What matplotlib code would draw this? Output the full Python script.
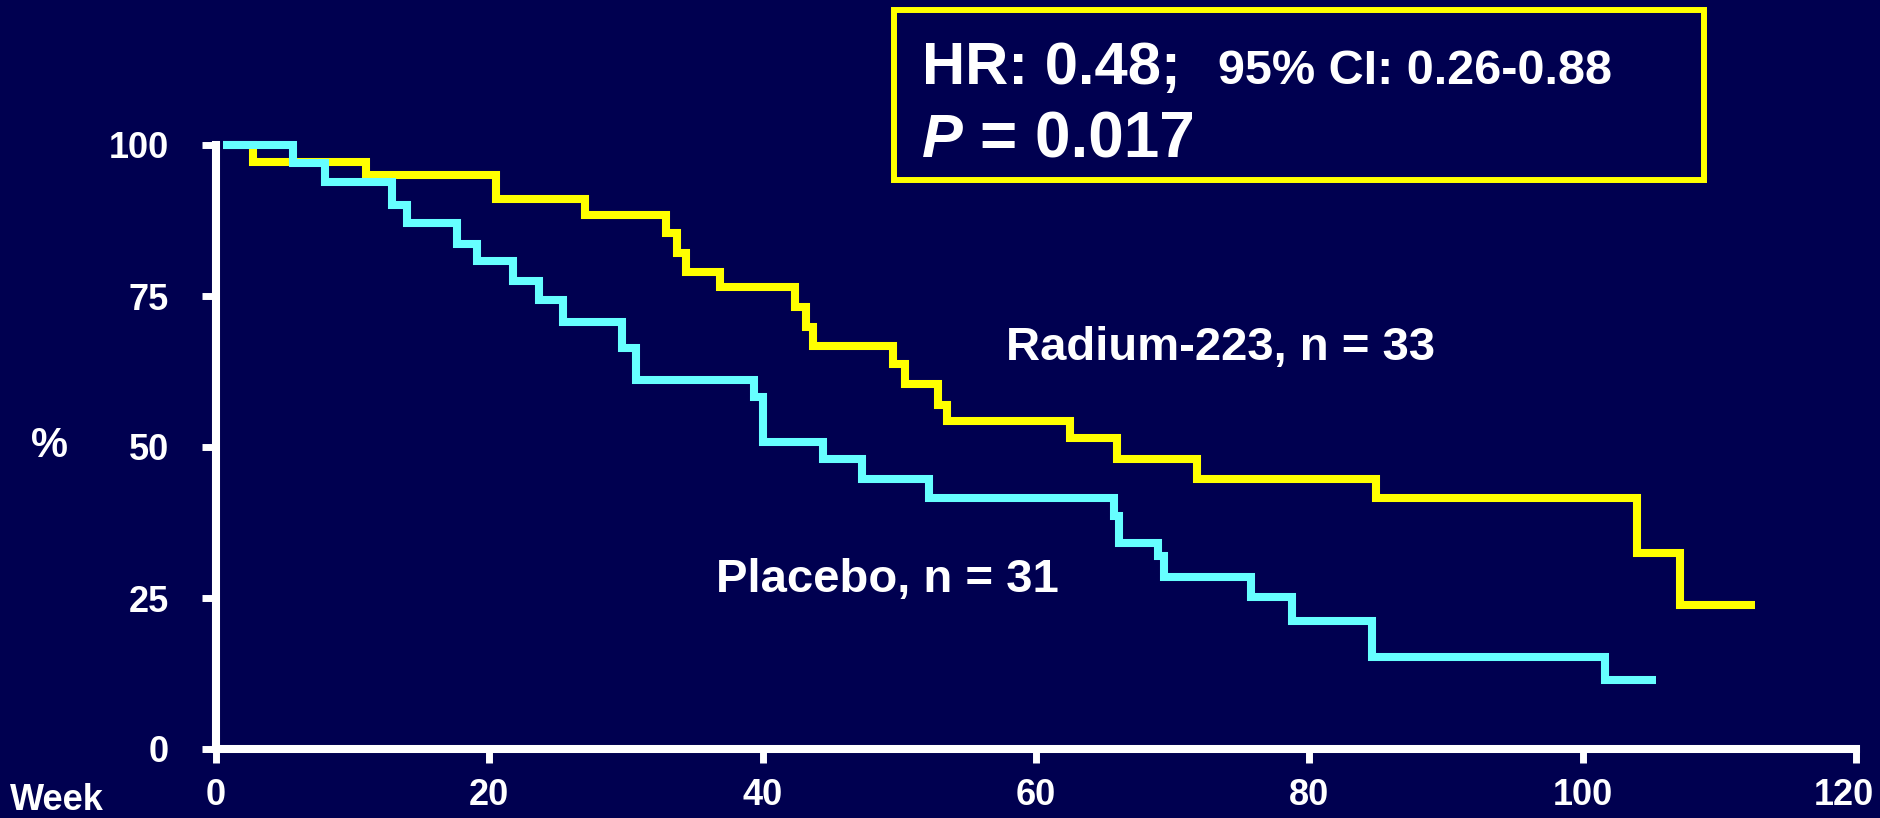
import matplotlib
matplotlib.use("Agg")
import matplotlib.pyplot as plt
import matplotlib.transforms as mtransforms
from matplotlib.patches import Rectangle

# Kaplan-Meier steps (weeks, % surviving)
radium_weeks = [0.5, 2.7, 11.0, 20.5, 27.0, 32.9, 33.7, 34.4, 36.9, 42.4, 43.2, 43.7,
                49.5, 50.4, 52.8, 53.5, 62.5, 65.9, 71.8, 84.9, 104.0, 107.1, 112.6]
radium_pct = [100, 97.2, 95.0, 91.0, 88.4, 85.4, 82.1, 79.0, 76.5, 73.2, 69.9, 66.7,
              63.7, 60.4, 57.0, 54.3, 51.5, 48.0, 44.7, 41.6, 32.5, 23.8, 23.8]

placebo_weeks = [0.5, 5.6, 8.0, 12.9, 14.0, 17.6, 19.1, 21.7, 23.6, 25.4, 29.7, 30.7,
                 39.4, 40.0, 44.4, 47.3, 52.2, 65.7, 66.1, 68.9, 69.4, 75.7, 78.7,
                 84.6, 101.6, 105.4]
placebo_pct = [100, 97.0, 93.9, 90.1, 87.1, 83.6, 80.8, 77.5, 74.3, 70.7, 66.4, 61.1,
               58.3, 50.8, 48.0, 44.7, 41.6, 38.6, 34.1, 32.0, 28.5, 25.2, 21.2,
               15.2, 11.4, 11.4]

x_ticks = [0, 20, 40, 60, 80, 100, 120]
y_ticks = [0, 25, 50, 75, 100]

bg = "#000050"
yellow = "#ffff00"
cyan = "#66ffff"

plt.rcParams['font.family'] = ['Liberation Sans', 'DejaVu Sans']
plt.rcParams['font.weight'] = 'bold'

W, H = 1881, 818
fig = plt.figure(figsize=(W / 100, H / 100), dpi=100, facecolor=bg)
ax = fig.add_axes([216 / W, 1 - 749 / H, (1856 - 216) / W, (749 - 145) / H])
ax.set_facecolor(bg)

ax.step(radium_weeks, radium_pct, where='post', color=yellow, lw=5.8,
        solid_joinstyle='miter', solid_capstyle='butt', clip_on=False, zorder=3)
ax.step(placebo_weeks, placebo_pct, where='post', color=cyan, lw=5.8,
        solid_joinstyle='miter', solid_capstyle='butt', clip_on=False, zorder=4)

ax.set_xlim(0, 120)
ax.set_ylim(0, 100)
ax.set_xticks(x_ticks)
ax.set_yticks(y_ticks)
for s in ['top', 'right']:
    ax.spines[s].set_visible(False)
for s in ['left', 'bottom']:
    ax.spines[s].set_color('white')
    ax.spines[s].set_linewidth(5.8)
ax.tick_params(colors='white', width=5, length=10, labelsize=26)
ax.tick_params(axis='x', pad=11)
ax.tick_params(axis='y', pad=24)

# last x label sits a little left of its tick so it stays inside the picture
last = ax.get_xticklabels()[-1]
last.set_transform(last.get_transform() +
                   mtransforms.ScaledTranslation(-9 / 72, 0, fig.dpi_scale_trans))

# axis labels
fig.text(10 / W, 1 - 801 / H, "Week", color='white', fontsize=26, ha='left', va='center')
fig.text(50 / W, 1 - 446 / H, "%", color='white', fontsize=30, ha='center', va='center')

# curve labels
fig.text(1006 / W, 1 - 348 / H, "Radium-223, n = 33", color='white', fontsize=34,
         ha='left', va='center')
fig.text(716 / W, 1 - 580 / H, "Placebo, n = 31", color='white', fontsize=34,
         ha='left', va='center')

# stats box
fig.patches.append(Rectangle((894 / W, 1 - 180 / H), (1704 - 894) / W, (180 - 10) / H,
                             transform=fig.transFigure, fill=False, edgecolor=yellow,
                             linewidth=4.3))
fig.text(922 / W, 1 - 84 / H, "HR: 0.48;", color='white', fontsize=43, va='baseline')
fig.text(1218 / W, 1 - 84 / H, "95% CI: 0.26-0.88", color='white', fontsize=35, va='baseline')
fig.text(922 / W, 1 - 157 / H, "P", color='white', fontsize=44, style='italic', va='baseline')
fig.text(980 / W, 1 - 157 / H, "= 0.017", color='white', fontsize=46, va='baseline')

fig.savefig("out.png", dpi=100, facecolor=bg)
